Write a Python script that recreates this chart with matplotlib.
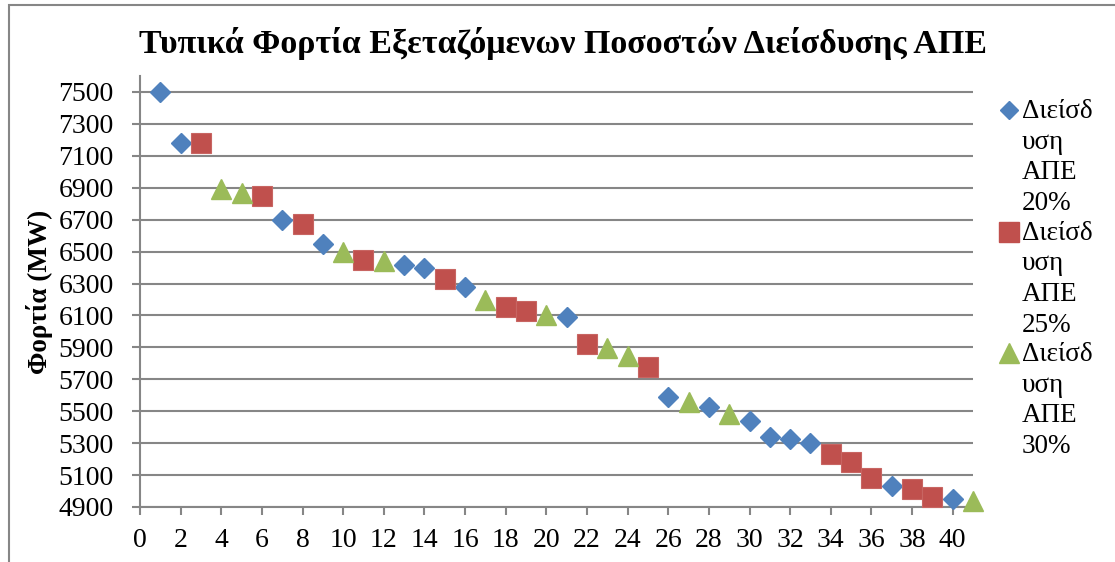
import matplotlib
matplotlib.use('Agg')
import matplotlib.pyplot as plt
from matplotlib.lines import Line2D
from matplotlib.patches import Rectangle

plt.rcParams['font.family'] = ['Liberation Serif', 'DejaVu Serif']

#values
x_20 = [1, 2, 7, 9, 13, 14, 16, 21, 26, 28, 30, 31, 32, 33, 37, 40]
load_20 = [7500, 7180, 6700, 6550, 6415, 6400, 6280, 6090, 5590, 5525, 5440, 5340, 5325, 5300, 5030, 4950]

x_25 = [3, 6, 8, 11, 15, 18, 19, 22, 25, 34, 35, 36, 38, 39]
load_25 = [7180, 6850, 6670, 6445, 6330, 6150, 6130, 5920, 5780, 5235, 5185, 5080, 5010, 4960]

x_30 = [4, 5, 10, 12, 17, 20, 23, 24, 27, 29, 41]
load_30 = [6890, 6865, 6500, 6440, 6195, 6100, 5895, 5845, 5560, 5480, 4935]

labels = ['Διείσδ\nυση\nΑΠΕ\n20%', 'Διείσδ\nυση\nΑΠΕ\n25%', 'Διείσδ\nυση\nΑΠΕ\n30%']
title = 'Τυπικά Φορτία Εξεταζόμενων Ποσοστών Διείσδυσης ΑΠΕ'
ylabel = 'Φορτία (MW)'

blue = '#4F81BD'
red = '#C0504D'
green = '#9BBB59'
grey = '#868686'

fig = plt.figure(figsize=(11.15, 5.62), dpi=100)
ax = fig.add_axes([140 / 1115, 1 - 507 / 562, 833 / 1115, 431 / 562])

ax.plot(x_20, load_20, 'D', color=blue, ms=10, mec=blue, clip_on=False, zorder=3)
ax.plot(x_25, load_25, 's', color=red, ms=14.5, mec='#C86562', mew=0.8, clip_on=False, zorder=3)
ax.plot(x_30, load_30, '^', color=green, ms=14.5, mec=green, clip_on=False, zorder=3)

ax.set_xlim(0, 41)
ax.set_ylim(4900, 7600)
ax.set_xticks(range(0, 41, 2))
ax.set_yticks(range(4900, 7501, 200))
ax.grid(axis='y', color=grey, lw=1.5)
ax.set_axisbelow(True)
for s in ['top', 'right']:
    ax.spines[s].set_visible(False)
for s in ['left', 'bottom']:
    ax.spines[s].set_color(grey)
    ax.spines[s].set_linewidth(1.5)
ax.tick_params(colors=grey, width=1.5, length=6, labelcolor='black', labelsize=20)
ax.tick_params(axis='x', pad=9)
ax.tick_params(axis='y', pad=13)

ax.set_ylabel(ylabel, fontsize=19.5, fontweight='bold', labelpad=4)
fig.text(0.505, 1 - 44 / 562, title, ha='center', va='center', fontsize=24.5, fontweight='bold')

#legend built by hand: marker on the first line, label wrapped like the original
colors = [blue, red, green]
markers = ['D', 's', '^']
sizes = [10, 14.5, 14.5]
for i in range(3):
    top = 110 + i * 121.5
    fig.add_artist(Line2D([1009 / 1115], [1 - top / 562], marker=markers[i], color=colors[i],
                          ms=sizes[i] * 0.95, transform=fig.transFigure))
    for j, line in enumerate(labels[i].split('\n')):
        fig.text(1022 / 1115, 1 - (top + 8 + j * 30.7) / 562, line, ha='left',
                 va='baseline', fontsize=19.5)

#outer chart border (cut off at right and bottom in the reference)
fig.add_artist(Rectangle((9 / 1115, -0.1), 1.2, 1 - 5 / 562 + 0.1, fill=False,
                         ec=grey, lw=1.5, transform=fig.transFigure))

fig.savefig('out.png', dpi=100)
